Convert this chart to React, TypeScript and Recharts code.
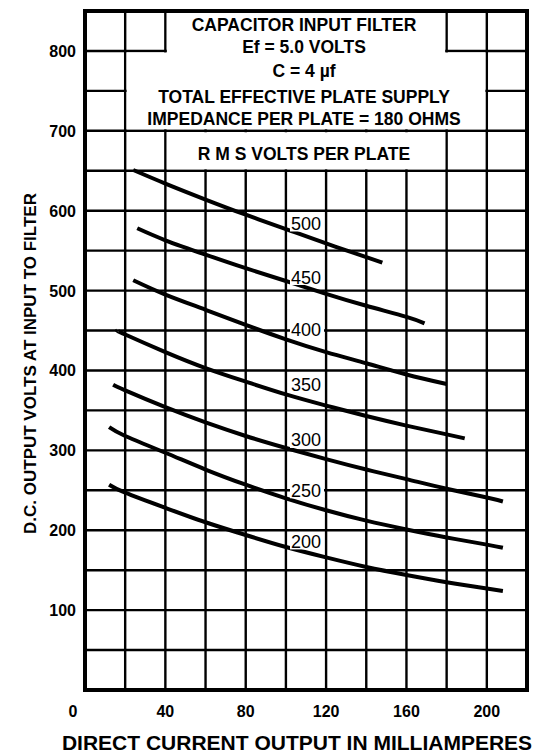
import React from "react";
import {
  LineChart,
  Line,
  XAxis,
  YAxis,
  CartesianGrid,
  ReferenceArea,
  ReferenceDot,
  Label,
} from "recharts";

// current (mA) / D.C. volts pairs
const rms500 = [[24, 651], [40, 634], [60, 614], [80, 595], [100, 577], [120, 559], [140, 542], [148, 535]];
const rms450 = [[26, 578], [40, 563], [60, 545], [80, 528], [100, 512], [120, 496], [140, 481], [160, 467], [169, 459]];
const rms400 = [[24, 513], [40, 495], [60, 476], [80, 457], [100, 439], [120, 423], [140, 409], [160, 395], [180, 383]];
const rms350 = [[16, 450], [20, 445], [40, 423], [60, 403], [80, 386], [100, 370], [120, 356], [140, 343], [160, 331], [180, 320], [189, 315]];
const rms300 = [[14, 382], [20, 375], [40, 354], [60, 335], [80, 318], [100, 303], [120, 289], [140, 276], [160, 264], [180, 252], [200, 241], [208, 236]];
const rms250 = [[12, 329], [20, 318], [40, 297], [60, 276], [80, 257], [100, 240], [120, 225], [140, 212], [160, 201], [180, 191], [200, 182], [208, 178]];
const rms200 = [[12, 257], [20, 247], [40, 228], [60, 210], [80, 194], [100, 179], [120, 166], [140, 154], [160, 144], [180, 135], [200, 127], [208, 124]];

const curves = [
  { name: "500", points: rms500 },
  { name: "450", points: rms450 },
  { name: "400", points: rms400 },
  { name: "350", points: rms350 },
  { name: "300", points: rms300 },
  { name: "250", points: rms250 },
  { name: "200", points: rms200 },
];

// where each curve's number sits (mA, volts)
const curveLabelMa = 110;
const curveLabelVolts = [584, 517, 451, 383, 313, 250, 186];

const gridMa = [0, 20, 40, 60, 80, 100, 120, 140, 160, 180, 200, 220];
const gridVolts = [0, 50, 100, 150, 200, 250, 300, 350, 400, 450, 500, 550, 600, 650, 700, 750, 800, 850];
const xTickLabels = [0, 40, 80, 120, 160, 200];
const yTickLabels = [100, 200, 300, 400, 500, 600, 700, 800];

const boxLines = [
  "CAPACITOR INPUT FILTER",
  "Ef = 5.0 VOLTS",
  "C = 4 µf",
  "TOTAL EFFECTIVE PLATE SUPPLY",
  "IMPEDANCE PER PLATE = 180 OHMS",
  "R M S VOLTS PER PLATE",
];

const FONT = '"Liberation Sans", Arial, Helvetica, sans-serif';

function XTick({ x, y, payload }: any) {
  if (!xTickLabels.includes(payload.value)) return <g />;
  const shift = payload.value === 0 ? -12 : 0;
  return (
    <text x={x + shift} y={y + 27} textAnchor="middle" fontFamily={FONT} fontWeight="bold" fontSize={16} fill="#000">
      {payload.value}
    </text>
  );
}

function YTick({ x, y, payload }: any) {
  if (!yTickLabels.includes(payload.value)) return <g />;
  return (
    <text x={x - 9} y={y + 6} textAnchor="end" fontFamily={FONT} fontWeight="bold" fontSize={16} fill="#000">
      {payload.value}
    </text>
  );
}

function CurveTag({ cx, cy, text }: any) {
  return (
    <g>
      <rect x={cx - 16} y={cy - 8} width={34} height={16} fill="#fff" />
      <text x={cx} y={cy + 6.5} textAnchor="middle" fontFamily={FONT} fontSize={18} fill="#000">
        {text}
      </text>
    </g>
  );
}

function BoxText({ viewBox }: any) {
  const { x, y, width } = viewBox;
  const cx = x + width / 2;
  const offsets = [19.5, 42, 65.5, 92, 113.5, 148.5];
  return (
    <g fontFamily={FONT} fontWeight="bold" fontSize={17.5} fill="#000">
      {boxLines.map((line, i) => (
        <text key={line} x={cx - 2} y={y + offsets[i]} textAnchor="middle">
          {line}
        </text>
      ))}
    </g>
  );
}

export default function App() {
  return (
    <div style={{ position: "absolute", left: 0, top: 0, background: "#fff" }}>
      <LineChart width={546} height={756} margin={{ top: 11, right: 19, bottom: 0, left: 0 }}>
        <CartesianGrid stroke="#000" strokeWidth={2.4} />
        <XAxis
          type="number"
          dataKey="ma"
          domain={[0, 220]}
          ticks={gridMa}
          interval={0}
          height={66}
          axisLine={false}
          tickLine={false}
          tickSize={0}
          tickMargin={0}
          tick={<XTick />}
        >
          <Label
            content={({ viewBox }: any) => (
              <text
                x={viewBox.x + viewBox.width / 2 - 9}
                y={viewBox.y + 60}
                textAnchor="middle"
                fontFamily={FONT}
                fontWeight="bold"
                fontSize={21}
                fill="#000"
              >
                DIRECT CURRENT OUTPUT IN MILLIAMPERES
              </text>
            )}
          />
        </XAxis>
        <YAxis
          type="number"
          domain={[0, 850]}
          ticks={gridVolts}
          interval={0}
          width={85}
          axisLine={false}
          tickLine={false}
          tickSize={0}
          tickMargin={0}
          tick={<YTick />}
        >
          <Label
            content={({ viewBox }: any) => {
              const lx = viewBox.x + 36;
              const ly = viewBox.y + viewBox.height / 2 + 13;
              return (
                <text
                  x={lx}
                  y={ly}
                  transform={`rotate(-90, ${lx}, ${ly})`}
                  textAnchor="middle"
                  fontFamily={FONT}
                  fontWeight="bold"
                  fontSize={17}
                  fill="#000"
                >
                  D.C. OUTPUT VOLTS AT INPUT TO FILTER
                </text>
              );
            }}
          />
        </YAxis>

        {/* white text panel knocked out of the grid */}
        <ReferenceArea x1={40.75} x2={179.25} y1={797} y2={848} fill="#fff" fillOpacity={1} stroke="none" />
        <ReferenceArea x1={20.75} x2={199.25} y1={701.9} y2={798.1} fill="#fff" fillOpacity={1} stroke="none" />
        <ReferenceArea x1={40.75} x2={179.25} y1={651.9} y2={698.1} fill="#fff" fillOpacity={1} stroke="none" />
        <ReferenceArea x1={20} x2={200} y1={650} y2={850} fill="none" stroke="none">
          <Label content={<BoxText />} />
        </ReferenceArea>

        {curves.map((c, i) => (
          <ReferenceDot
            key={`tag-${c.name}`}
            x={curveLabelMa}
            y={curveLabelVolts[i]}
            r={0}
            shape={(p: any) => <CurveTag cx={p.cx} cy={p.cy} text={c.name} />}
          />
        ))}

        {curves.map((c) => (
          <Line
            key={c.name}
            data={c.points.map(([ma, v]) => ({ ma, v }))}
            dataKey="v"
            type="natural"
            stroke="#000"
            strokeWidth={4}
            dot={false}
            activeDot={false}
            isAnimationActive={false}
          />
        ))}

        <ReferenceArea x1={0} x2={220} y1={0} y2={850} fill="none" stroke="#000" strokeWidth={4} />
      </LineChart>
    </div>
  );
}
